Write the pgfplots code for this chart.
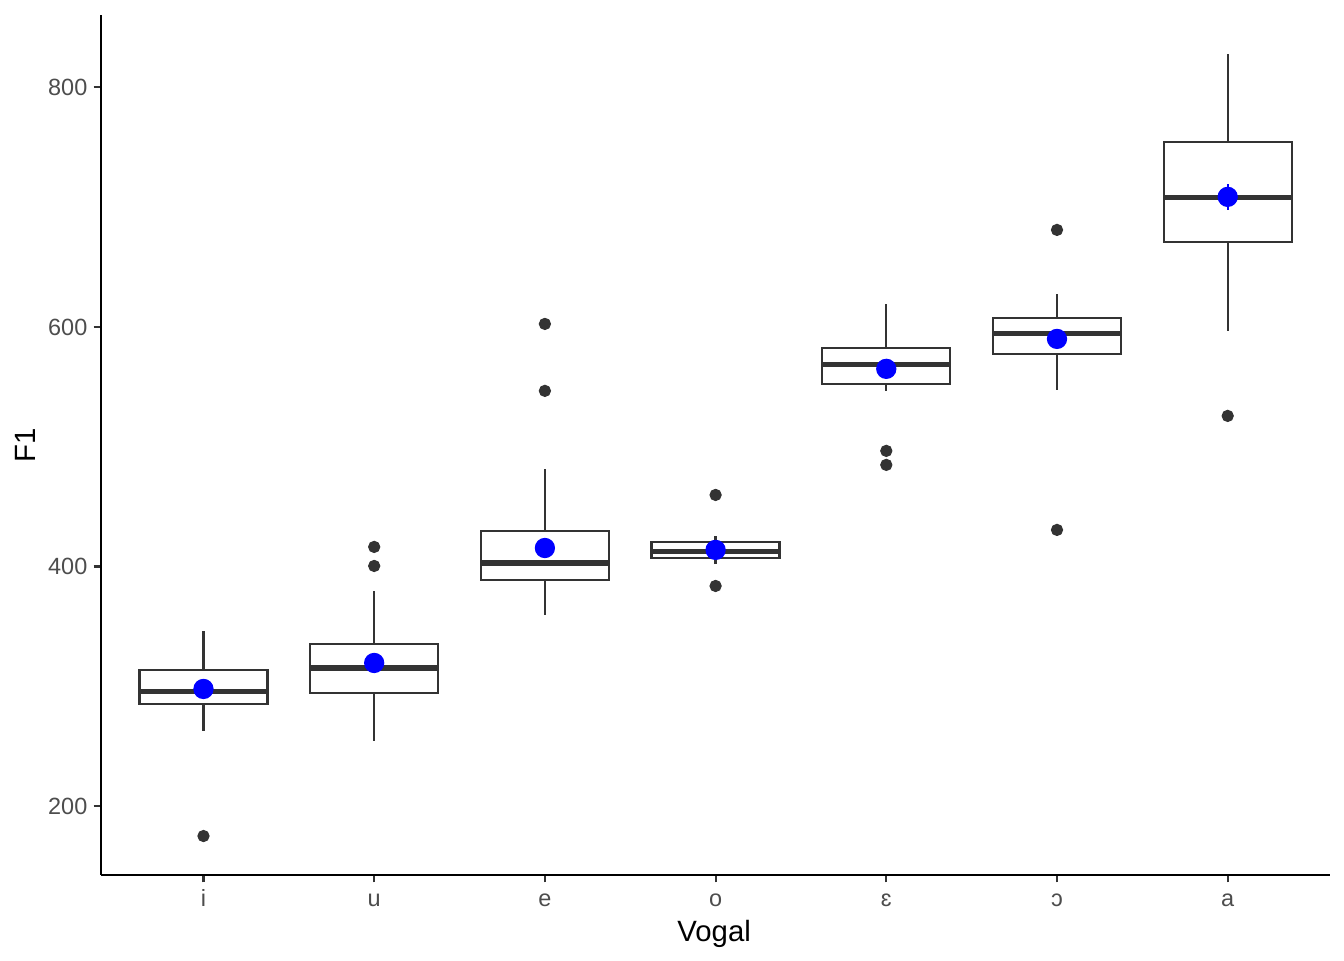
\documentclass[border=0pt]{standalone}
\usepackage{fontspec}
\setmainfont{Liberation Sans}
\usepackage{pgfplots}
\pgfplotsset{compat=1.18}
\definecolor{boxc}{HTML}{333333}
\definecolor{tickc}{HTML}{4D4D4D}
\begin{document}
\begin{tikzpicture}
\path[use as bounding box] (-37.9pt,-31.9pt) rectangle (466.1pt,328.1pt);
\begin{axis}[
  scale only axis, width=460.9pt, height=322.5pt,
  xmin=0.4, xmax=7.6, ymin=142.4, ymax=860.5,
  enlargelimits=false,
  axis lines=left,
  axis line style={-, line width=0.8pt, black},
  tick align=outside,
  major tick length=2.75pt,
  tick style={line width=0.8pt, color=boxc},
  xtick={1,2,3,4,5,6,7},
  xticklabels={i,u,e,o,ɛ,ɔ,a},
  ytick={200,400,600,800},
  /pgf/number format/assume math mode=true,
  ticklabel style={font=\fontsize{8.8}{10}\selectfont, text=tickc},
  yticklabel style={inner sep=0pt, xshift=-2.2pt},
  xticklabel style={inner sep=0pt, anchor=base, yshift=-9pt},
  clip=false,
  unbounded coords=jump,
  boxst/.style={draw=boxc, fill=white, line width=0.85pt},
  whst/.style={draw=boxc, line width=0.85pt},
  medst/.style={draw=boxc, line width=1.9pt},
]
% whiskers per vowel
\addplot[whst] coordinates {
(1,262.6) (1,346) (nan,nan)
(2,254.3) (2,379.5) (nan,nan)
(3,359.5) (3,481.4) (nan,nan)
(4,402) (4,425.5) (nan,nan)
(5,546.6) (5,619.2) (nan,nan)
(6,547.4) (6,627.6) (nan,nan)
(7,596.7) (7,828)};
% boxes (lower quartile, upper quartile)
\addplot[boxst] coordinates {(0.625,285.2) (1.375,285.2) (1.375,313.6) (0.625,313.6)} -- cycle;
\addplot[boxst] coordinates {(1.625,294.4) (2.375,294.4) (2.375,335.3) (1.625,335.3)} -- cycle;
\addplot[boxst] coordinates {(2.625,388.7) (3.375,388.7) (3.375,429.6) (2.625,429.6)} -- cycle;
\addplot[boxst] coordinates {(3.625,407.1) (4.375,407.1) (4.375,420.5) (3.625,420.5)} -- cycle;
\addplot[boxst] coordinates {(4.625,552.4) (5.375,552.4) (5.375,582.5) (4.625,582.5)} -- cycle;
\addplot[boxst] coordinates {(5.625,577.5) (6.375,577.5) (6.375,607.5) (5.625,607.5)} -- cycle;
\addplot[boxst] coordinates {(6.625,671) (7.375,671) (7.375,754.5) (6.625,754.5)} -- cycle;
% medians
\addplot[medst] coordinates {
(0.625,295.2) (1.375,295.2) (nan,nan)
(1.625,315.2) (2.375,315.2) (nan,nan)
(2.625,402.9) (3.375,402.9) (nan,nan)
(3.625,412.1) (4.375,412.1) (nan,nan)
(4.625,568.3) (5.375,568.3) (nan,nan)
(5.625,594.2) (6.375,594.2) (nan,nan)
(6.625,707.7) (7.375,707.7)};
% outliers
\addplot[only marks, mark=*, mark size=2.1pt, color=boxc, mark options={draw=boxc, fill=boxc}] coordinates {
(1,174.9) (2,416.3) (2,400.4) (3,602.5) (3,546.6) (4,459.7) (4,383.7)
(5,496.5) (5,484.8) (6,681) (6,430.5) (7,525.7)};
% means
\addplot[only marks, mark=*, mark size=3.6pt, color=blue, mark options={draw=blue, fill=blue},
  error bars/.cd, y dir=both, y explicit, error mark=none, error bar style={line width=0.8pt, blue}] coordinates {
(1,297.7) +- (0,5)
(2,319.4) +- (0,6)
(3,415.4) +- (0,7)
(4,413.8) +- (0,4)
(5,565.0) +- (0,4)
(6,590.0) +- (0,5)
(7,708.6) +- (0,11)};
\end{axis}
\node[font=\fontsize{11}{13}\selectfont, rotate=90] at (-28.5pt,161.25pt) {F1};
\node[font=\fontsize{11}{13}\selectfont] at (229.9pt,-22pt) {Vogal};
\end{tikzpicture}
\end{document}
